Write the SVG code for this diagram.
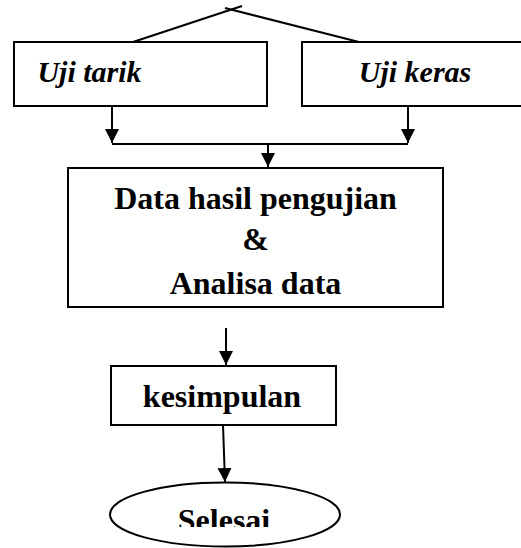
<svg xmlns="http://www.w3.org/2000/svg" width="521" height="548" viewBox="0 0 521 548">
<style>
.box{fill:#fff;stroke:#000;stroke-width:2}
.ln{fill:none;stroke:#000;stroke-width:2}
.t{font-family:"Liberation Serif","Times New Roman",serif;font-weight:bold;fill:#000;text-anchor:middle}
.it{font-style:italic}
</style>
<defs>
<marker id="ah" markerWidth="14" markerHeight="15" refX="14" refY="7" orient="auto" markerUnits="userSpaceOnUse">
<path d="M0,0 L14,7 L0,14 Z" fill="#000"/>
</marker>
<clipPath id="clipSel"><rect x="0" y="0" width="521" height="527"/></clipPath>
</defs>
<g id="connectors">
<line class="ln" x1="133" y1="42" x2="242" y2="6"/>
<line class="ln" x1="225" y1="8" x2="359" y2="42"/>
<line class="ln" x1="112" y1="106" x2="112" y2="143" marker-end="url(#ah)"/>
<line class="ln" x1="408" y1="106" x2="408" y2="143" marker-end="url(#ah)"/>
<line class="ln" x1="112" y1="144" x2="408" y2="144"/>
<line class="ln" x1="268" y1="144" x2="268" y2="167" marker-end="url(#ah)"/>
<line class="ln" x1="226" y1="328" x2="226" y2="365" marker-end="url(#ah)"/>
<line class="ln" x1="223" y1="425" x2="225" y2="482" marker-end="url(#ah)"/>
</g>
<g id="uji-tarik">
<rect class="box" x="14" y="42" width="253" height="64"/>
<text class="t it" x="89.5" y="82" font-size="30">Uji tarik</text>
</g>
<g id="uji-keras">
<rect class="box" x="302" y="42" width="222" height="64"/>
<text class="t it" x="415" y="82" font-size="30">Uji keras</text>
</g>
<g id="data-hasil">
<rect class="box" x="68" y="168" width="375" height="139"/>
<text class="t" x="255.5" y="209" font-size="32">Data hasil pengujian</text>
<text class="t" x="255.5" y="250" font-size="32">&amp;</text>
<text class="t" x="255.5" y="294" font-size="32">Analisa data</text>
</g>
<g id="kesimpulan">
<rect class="box" x="111" y="366" width="225" height="59"/>
<text class="t" x="222" y="407" font-size="32">kesimpulan</text>
</g>
<g id="selesai">
<ellipse class="box" cx="225" cy="514.5" rx="115" ry="32"/>
<text class="t" x="224" y="531" font-size="32" clip-path="url(#clipSel)">Selesai</text>
</g>
</svg>
